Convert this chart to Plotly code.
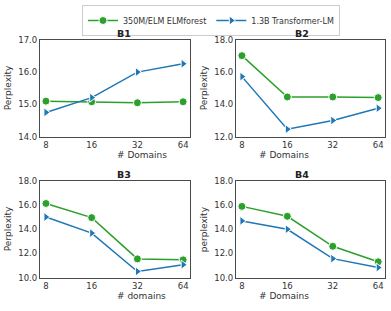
import plotly.graph_objects as go

domains = ["8", "16", "32", "64"]
titles = ["B1", "B2", "B3", "B4"]
xlabels = ["# Domains", "# Domains", "# domains", "# Domains"]
ylabels = ["Perplexity", "Perplexity", "Perplexity", "perplexity"]
elm = [
    [15.10, 15.08, 15.05, 15.08],
    [17.02, 14.46, 14.46, 14.42],
    [16.13, 14.96, 11.55, 11.47],
    [15.89, 15.07, 12.59, 11.31],
]
tlm = [
    [14.75, 15.21, 16.00, 16.26],
    [15.72, 12.46, 13.00, 13.76],
    [15.01, 13.68, 10.51, 11.07],
    [14.69, 14.00, 11.57, 10.83],
]
yranges = [[14, 17], [12, 18], [10, 18], [10, 18]]
ydticks = [1, 2, 2, 2]

W, H = 391, 311
GREEN = "#2ca02c"
BLUE = "#1f77b4"

boxes = [  # left, right, top, bottom in px
    (40, 190, 36, 136),
    (236, 385, 36, 136),
    (40, 190, 181.7, 281.7),
    (236, 385, 181.7, 281.7),
]

fig = go.Figure()
annotations = []
for i in range(4):
    l, r, t, b = boxes[i]
    sfx = "" if i == 0 else str(i + 1)
    xa, ya = "x" + sfx, "y" + sfx
    xs = list(range(len(domains)))
    fig.add_trace(go.Scatter(
        x=xs, y=elm[i], xaxis=xa, yaxis=ya, mode="lines+markers",
        name="350M/ELM ELMforest", showlegend=(i == 0),
        line=dict(color=GREEN, width=1.5),
        marker=dict(symbol="circle", size=8, color=GREEN, line=dict(color="white", width=1)),
    ))
    fig.add_trace(go.Scatter(
        x=xs, y=tlm[i], xaxis=xa, yaxis=ya, mode="lines+markers",
        name="1.3B Transformer-LM", showlegend=(i == 0),
        line=dict(color=BLUE, width=1.5),
        marker=dict(symbol="triangle-right", size=8, color=BLUE, line=dict(color="white", width=1)),
    ))
    fig.update_layout(**{
        ("xaxis" + sfx): dict(
            domain=[l / W, r / W], anchor=ya, range=[-0.13, 3.15],
            tickmode="array", tickvals=xs, ticktext=domains,
            showgrid=False, zeroline=False, showline=True, mirror=True,
            linecolor="#4a4a4a", linewidth=1.2, ticks="",
            tickfont=dict(size=8.5, color="#333333"),
        ),
        ("yaxis" + sfx): dict(
            domain=[1 - b / H, 1 - t / H], anchor=xa, range=yranges[i],
            dtick=ydticks[i], tick0=0, tickformat=".1f",
            showgrid=False, zeroline=False, showline=True, mirror=True,
            linecolor="#4a4a4a", linewidth=1.2, ticks="",
            tickfont=dict(size=8.5, color="#333333"),
        ),
    })
    cx = (l + r) / 2
    annotations.append(dict(text="<b>" + titles[i] + "</b>", x=cx / W, y=1 - (t - 7) / H,
                            xref="paper", yref="paper", showarrow=False,
                            font=dict(size=9.5, color="#222222"), yanchor="middle"))
    annotations.append(dict(text=xlabels[i], x=cx / W, y=1 - (b + 19) / H,
                            xref="paper", yref="paper", showarrow=False,
                            font=dict(size=9, color="#333333"), yanchor="middle"))
    annotations.append(dict(text=ylabels[i], x=(l - 32) / W, y=1 - ((t + b) / 2) / H,
                            xref="paper", yref="paper", showarrow=False, textangle=-90,
                            font=dict(size=9, color="#333333"), xanchor="center", yanchor="middle"))

fig.update_layout(
    width=W, height=H,
    margin=dict(l=0, r=0, t=0, b=0),
    paper_bgcolor="white", plot_bgcolor="white",
    font=dict(family="DejaVu Sans", size=8.5, color="#333333"),
    annotations=annotations,
    legend=dict(orientation="h", x=211 / W, xanchor="center", y=1 - 0 / H, yanchor="top",
                bordercolor="#cccccc", borderwidth=1, font=dict(size=8),
                itemwidth=30, tracegroupgap=0),
    showlegend=True,
)
fig.write_html("out.html", config={"displayModeBar": False},
               post_script="document.body.style.margin='0';document.body.style.overflow='hidden';")
